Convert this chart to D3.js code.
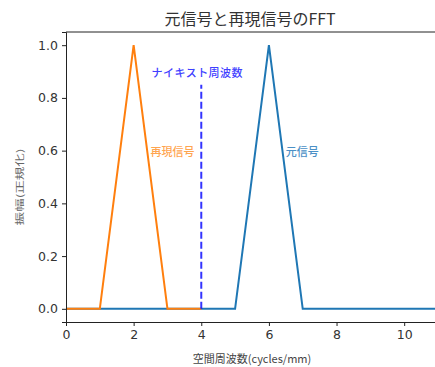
<!DOCTYPE html>
<html>
<head>
<meta charset="utf-8">
<script src="https://cdn.jsdelivr.net/npm/d3@7"></script>
<style>
  body { margin: 0; background: #fff; }
  svg text { font-family: "Noto Sans CJK JP", "DejaVu Sans", sans-serif; }
</style>
</head>
<body>
<svg id="chart"></svg>
<script>
// data
const origX = [0, 1, 2, 3, 4, 5, 6, 7, 8, 9, 10, 11];
const origY = [0, 0, 0, 0, 0, 0, 1, 0, 0, 0, 0, 0];
const reconX = [0, 1, 2, 3, 4];
const reconY = [0, 0, 1, 0, 0];
const nyquist = 4;
const nyquistTop = 0.85;
const xTicks = [0, 2, 4, 6, 8, 10];
const yTicks = [0, 0.2, 0.4, 0.6, 0.8, 1.0];

const W = 435, H = 367;
const margin = {left: 66, right: -3, top: 32, bottom: 45};

const svg = d3.select('#chart')
    .attr('width', W)
    .attr('height', H);

const x = d3.scaleLinear()
    .domain([0, 11])
    .range([margin.left, W - margin.right]);

const y = d3.scaleLinear()
    .domain([-0.05, 1.05])
    .range([H - margin.bottom, margin.top]);

svg.append('clipPath').attr('id', 'clip')
    .append('rect')
    .attr('x', margin.left).attr('y', margin.top)
    .attr('width', W - margin.right - margin.left)
    .attr('height', H - margin.bottom - margin.top);

const plot = svg.append('g').attr('clip-path', 'url(#clip)');

const line = d3.line()
    .x(d => x(d[0]))
    .y(d => y(d[1]));

// original signal (blue) underneath
plot.append('path')
    .datum(origX.map((v, i) => [v, origY[i]]))
    .attr('d', line)
    .attr('fill', 'none')
    .attr('stroke', '#1f77b4')
    .attr('stroke-width', 2);

// reconstructed signal (orange)
plot.append('path')
    .datum(reconX.map((v, i) => [v, reconY[i]]))
    .attr('d', line)
    .attr('fill', 'none')
    .attr('stroke', '#ff7f0e')
    .attr('stroke-width', 2);

// nyquist line
plot.append('line')
    .attr('x1', x(nyquist)).attr('x2', x(nyquist))
    .attr('y1', y(0)).attr('y2', y(nyquistTop))
    .attr('stroke', '#0000ff')
    .attr('stroke-opacity', 0.8)
    .attr('stroke-width', 2)
    .attr('stroke-dasharray', '7,3');

// annotations
svg.append('text')
    .attr('x', x(2.53)).attr('y', y(0.9))
    .attr('dominant-baseline', 'central')
    .attr('font-size', 11)
    .attr('font-weight', 500)
    .attr('textLength', 91)
    .attr('fill', '#4040ff')
    .text('ナイキスト周波数');

svg.append('text')
    .attr('x', x(2.5)).attr('y', y(0.6))
    .attr('dominant-baseline', 'central')
    .attr('font-size', 11)
    .attr('font-weight', 500)
    .attr('fill', '#ffa54f')
    .text('再現信号');

svg.append('text')
    .attr('x', x(6.5)).attr('y', y(0.6))
    .attr('dominant-baseline', 'central')
    .attr('font-size', 11)
    .attr('font-weight', 500)
    .attr('fill', '#4b90c6')
    .text('元信号');

// axes
const xAxis = svg.append('g')
    .attr('transform', `translate(0,${H - margin.bottom})`)
    .call(d3.axisBottom(x).tickValues(xTicks).tickFormat(d3.format('d')).tickSizeOuter(0).tickSize(4).tickPadding(4));

const yAxis = svg.append('g')
    .attr('transform', `translate(${margin.left},0)`)
    .call(d3.axisLeft(y).tickValues(yTicks).tickFormat(d3.format('.1f')).tickSizeOuter(0).tickSize(4).tickPadding(4));

[xAxis, yAxis].forEach(g => {
    g.select('.domain').attr('stroke', '#222').attr('stroke-width', 1);
    g.selectAll('.tick line').attr('stroke', '#222');
    g.selectAll('.tick text')
        .attr('font-size', 12.5)
        .attr('fill', '#333')
        .style('font-family', '"DejaVu Sans", sans-serif');
});

// top spine
svg.append('line')
    .attr('x1', margin.left).attr('x2', W)
    .attr('y1', margin.top).attr('y2', margin.top)
    .attr('stroke', '#222');

// title and labels
svg.append('text')
    .attr('x', 250).attr('y', 18)
    .attr('text-anchor', 'middle')
    .attr('dominant-baseline', 'central')
    .attr('font-size', 16)
    .attr('fill', '#333')
    .text('元信号と再現信号のFFT');

svg.append('text')
    .attr('x', 252).attr('y', 358)
    .attr('text-anchor', 'middle')
    .attr('dominant-baseline', 'central')
    .attr('font-size', 11)
    .attr('fill', '#444')
    .text('空間周波数(cycles/mm)');

svg.append('text')
    .attr('transform', `translate(19,187) rotate(-90)`)
    .attr('text-anchor', 'middle')
    .attr('dominant-baseline', 'central')
    .attr('font-size', 9)
    .attr('textLength', 77)
    .attr('lengthAdjust', 'spacingAndGlyphs')
    .attr('fill', '#666')
    .text('振幅(正規化)');
</script>
</body>
</html>
